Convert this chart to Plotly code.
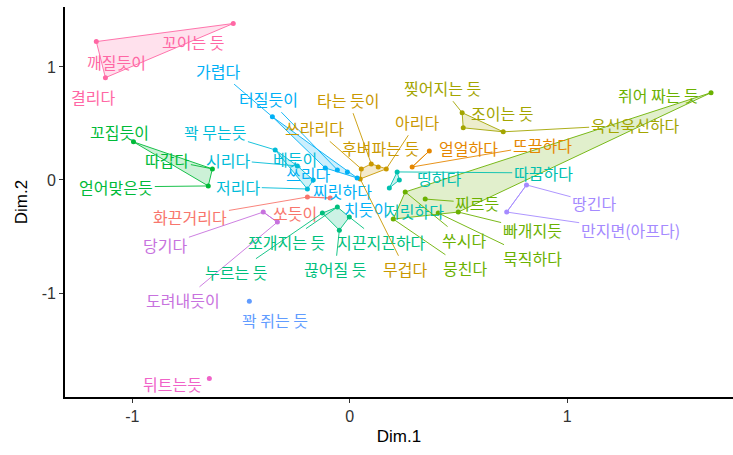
import plotly.graph_objects as go

# Correspondence-analysis style map of pain descriptors, grouped into clusters
words = [
    "깨질듯이", "꼬이는 듯", "결리다",
    "뒤트는듯",
    "꼬집듯이", "따갑다", "얻어맞은듯",
    "꽉 무는듯", "시리다", "베듯이", "저리다",
    "가렵다", "터질듯이", "쓰리다", "찌릿하다", "치듯이",
    "화끈거리다", "쏘듯이",
    "당기다", "도려내듯이",
    "꽉 쥐는 듯",
    "누르는 듯", "쪼개지는 듯", "지끈지끈하다", "끊어질 듯",
    "타는 듯이", "쓰라리다", "아리다", "후벼파는 듯", "무겁다",
    "얼얼하다", "뜨끔하다",
    "찢어지는 듯", "조이는 듯", "욱신욱신하다",
    "따끔하다", "띵하다", "저릿하다",
    "쥐어 짜는 듯", "찌르듯", "빠개지듯", "묵직하다", "쑤시다", "뭉친다",
    "땅긴다", "만지면(아프다)",
]
dim1 = [
    -1.166, -0.536, -1.124,
    -0.646,
    -0.995, -0.632, -0.651,
    -0.343, -0.241, -0.168, -0.195,
    -0.356, -0.057, -0.113, -0.011, 0.034,
    -0.195, -0.090,
    -0.398, -0.333,
    -0.462,
    -0.126, -0.057, -0.002, -0.048,
    0.099, 0.053, 0.168, 0.131, 0.048,
    0.366, 0.287,
    0.517, 0.522, 0.706,
    0.218, 0.228, 0.182,
    1.662, 0.347, 0.499, 0.407, 0.255, 0.200,
    0.813, 0.722,
]
dim2 = [
    1.224, 1.384, 0.905,
    -1.757,
    0.337, 0.098, -0.053,
    0.266, 0.124, 0.000, -0.080,
    0.559, 0.089, 0.106, 0.071, 0.018,
    -0.151, -0.160,
    -0.284, -0.373,
    -1.074,
    -0.293, -0.240, -0.328, -0.444,
    0.142, 0.098, 0.098, 0.115, 0.009,
    0.257, 0.115,
    0.595, 0.461, 0.426,
    0.071, 0.000, -0.071,
    0.772, -0.169, -0.284, -0.293, -0.106, -0.346,
    -0.044, -0.284,
]
cluster = [
    15, 15, 15,
    14,
    6, 6, 6,
    9, 9, 9, 9,
    10, 10, 10, 10, 10,
    1, 1,
    13, 13,
    11,
    7, 7, 7, 7,
    3, 3, 3, 3, 3,
    2, 2,
    4, 4, 4,
    8, 8, 8,
    5, 5, 5, 5, 5, 5,
    12, 12,
]

# label placement (data units) and whether a leader segment is drawn
label_x = [
    -1.074, -0.720, -1.179,
    -0.816,
    -1.060, -0.839, -1.074,
    -0.618, -0.559, -0.251, -0.513,
    -0.605, -0.375, -0.191, -0.034, 0.076,
    -0.733, -0.251,
    -0.848, -0.766,
    -0.343,
    -0.522, -0.292, 0.145, -0.067,
    -0.007, -0.163, 0.310, 0.140, 0.255,
    0.545, 0.885,
    0.425, 0.701, 1.313,
    0.890, 0.411, 0.297,
    1.418, 0.586, 0.839, 0.839, 0.526, 0.531,
    1.124, 1.290,
]
label_y = [
    1.047, 1.224, 0.736,
    -1.801,
    0.426, 0.177, -0.062,
    0.426, 0.177, 0.186, -0.062,
    0.967, 0.719, 0.053, -0.098, -0.257,
    -0.328, -0.293,
    -0.577, -1.065,
    -1.242,
    -0.816, -0.550, -0.550, -0.790,
    0.710, 0.461, 0.515, 0.284, -0.790,
    0.284, 0.311,
    0.816, 0.595, 0.488,
    0.062, 0.018, -0.275,
    0.754, -0.204, -0.444, -0.692, -0.532, -0.781,
    -0.204, -0.444,
]
segment = [
    0, 0, 0,
    0,
    1, 1, 1,
    1, 1, 0, 1,
    1, 1, 0, 0, 0,
    1, 0,
    1, 1,
    0,
    1, 1, 1, 1,
    1, 1, 1, 0, 1,
    0, 1,
    1, 0, 1,
    1, 0, 0,
    0, 1, 1, 1, 1, 1,
    1, 1,
]

palette = {
    1: "#F8766D", 2: "#E58700", 3: "#C99800", 4: "#A3A500", 5: "#6BB100",
    6: "#00BA38", 7: "#00BF7D", 8: "#00C0AF", 9: "#00BCD8", 10: "#00B0F6",
    11: "#619CFF", 12: "#A58AFF", 13: "#C772DE", 14: "#F063C8", 15: "#FF67A4",
}

LABEL_FONT = "Noto Sans CJK KR"
LABEL_SIZE = 16


def hex_rgba(h, a):
    h = h.lstrip("#")
    return f"rgba({int(h[0:2], 16)},{int(h[2:4], 16)},{int(h[4:6], 16)},{a})"


def convex_hull(pts):
    pts = sorted(set(pts))
    if len(pts) <= 2:
        return pts

    def cross(o, a, b):
        return (a[0] - o[0]) * (b[1] - o[1]) - (a[1] - o[1]) * (b[0] - o[0])

    lower, upper = [], []
    for p in pts:
        while len(lower) >= 2 and cross(lower[-2], lower[-1], p) <= 0:
            lower.pop()
        lower.append(p)
    for p in reversed(pts):
        while len(upper) >= 2 and cross(upper[-2], upper[-1], p) <= 0:
            upper.pop()
        upper.append(p)
    return lower[:-1] + upper[:-1]


fig = go.Figure()

# cluster hulls and points
for c in sorted(palette):
    idx = [i for i, k in enumerate(cluster) if k == c]
    col = palette[c]
    hull = convex_hull([(dim1[i], dim2[i]) for i in idx])
    if len(hull) >= 2:
        hx = [p[0] for p in hull] + [hull[0][0]]
        hy = [p[1] for p in hull] + [hull[0][1]]
        fig.add_trace(go.Scatter(
            x=hx, y=hy, mode="lines", fill="toself",
            fillcolor=hex_rgba(col, 0.2), line=dict(color=col, width=0.9),
            hoverinfo="skip", showlegend=False,
        ))
    fig.add_trace(go.Scatter(
        x=[dim1[i] for i in idx], y=[dim2[i] for i in idx], mode="markers",
        marker=dict(color=col, size=5), text=[words[i] for i in idx],
        hoverinfo="text", showlegend=False,
    ))

# repelled text labels, with leader segments where the label sits away from its point
for i, w in enumerate(words):
    col = palette[cluster[i]]
    font = dict(family=LABEL_FONT, size=LABEL_SIZE, color=col)
    if segment[i]:
        fig.add_annotation(
            x=dim1[i], y=dim2[i], ax=label_x[i], ay=label_y[i],
            axref="x", ayref="y", xref="x", yref="y",
            text=w, showarrow=True, arrowhead=0, arrowwidth=0.9,
            arrowcolor=col, standoff=0, startstandoff=0, font=font,
        )
    else:
        fig.add_annotation(
            x=label_x[i], y=label_y[i], xref="x", yref="y",
            text=w, showarrow=False, font=font,
        )

axis_font = dict(family="Liberation Sans, Arial, sans-serif", size=16, color="#333333")
title_font = dict(family="Liberation Sans, Arial, sans-serif", size=17, color="#000000")

fig.update_layout(
    width=733, height=455,
    margin=dict(l=65, r=0, t=7, b=58),
    plot_bgcolor="white", paper_bgcolor="white",
    xaxis=dict(
        range=[-1.31, 1.763], tickvals=[-1, 0, 1], ticktext=["-1", "0", "1"],
        showgrid=False, zeroline=False, showline=True, linecolor="black",
        linewidth=1.6, ticks="outside", ticklen=4, tickcolor="#333333",
        tickfont=axis_font, title=dict(text="Dim.1", font=title_font, standoff=6),
    ),
    yaxis=dict(
        range=[-1.92, 1.53], tickvals=[-1, 0, 1], ticktext=["-1", "0", "1"],
        showgrid=False, zeroline=False, showline=True, linecolor="black",
        linewidth=1.6, ticks="outside", ticklen=4, tickcolor="#333333",
        tickfont=axis_font, title=dict(text="Dim.2", font=title_font, standoff=10),
    ),
)

fig.write_html("out.html")
